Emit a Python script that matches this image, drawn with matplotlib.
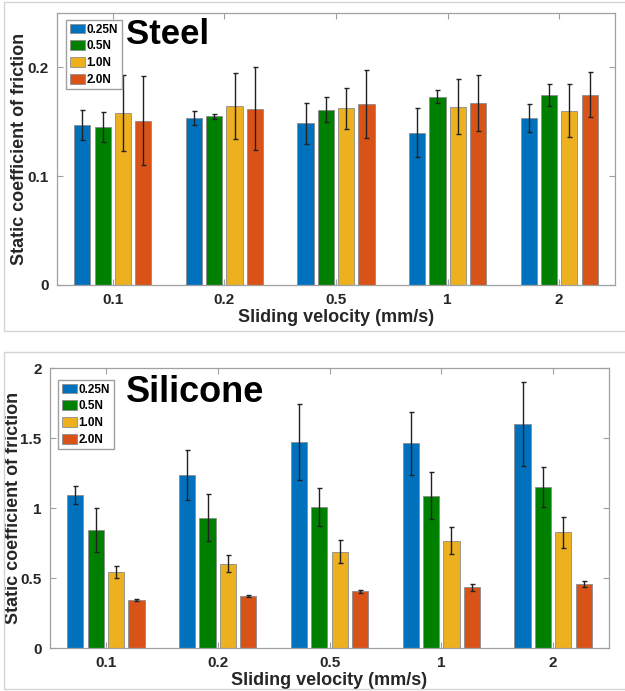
"""
Static coefficient of friction vs sliding velocity for steel and silicone,
grouped bars (one bar per normal load) with error bars.
"""
import numpy as np
import matplotlib.pyplot as plt
from matplotlib.patches import Rectangle

plt.rcParams['font.family'] = ['Liberation Sans', 'DejaVu Sans']
plt.rcParams['font.weight'] = 'bold'

velocities = ['0.1', '0.2', '0.5', '1', '2']
loads = ['0.25N', '0.5N', '1.0N', '2.0N']
colors = ['#0072BD', '#008000', '#EDB120', '#D95319']

# steel: rows = velocity, columns = load
steel_mean = [[0.147, 0.145, 0.158, 0.151],
              [0.1535, 0.155, 0.1645, 0.162],
              [0.1485, 0.161, 0.1625, 0.1665],
              [0.140, 0.173, 0.164, 0.1675],
              [0.1535, 0.1745, 0.160, 0.175]]
steel_err = [[0.014, 0.014, 0.035, 0.041],
             [0.006, 0.002, 0.030, 0.038],
             [0.0187, 0.0115, 0.019, 0.031],
             [0.0225, 0.006, 0.025, 0.0255],
             [0.013, 0.010, 0.0243, 0.0205]]

# silicone
silicone_mean = [[1.093, 0.843, 0.545, 0.343],
                 [1.233, 0.931, 0.602, 0.369],
                 [1.471, 1.005, 0.688, 0.405],
                 [1.462, 1.086, 0.767, 0.433],
                 [1.600, 1.152, 0.826, 0.457]]
silicone_err = [[0.067, 0.155, 0.042, 0.004],
                [0.178, 0.170, 0.060, 0.007],
                [0.274, 0.137, 0.083, 0.010],
                [0.225, 0.168, 0.099, 0.027],
                [0.298, 0.143, 0.113, 0.023]]

W, H = 625, 691
fig = plt.figure(figsize=(W / 100, H / 100), dpi=100)

# light panel frames around each chart
fig.patches.append(Rectangle((4 / W, 1 - 331 / H), 1.0, 329 / H, transform=fig.transFigure,
                             fill=False, edgecolor='#d4d4d4', linewidth=1))
fig.patches.append(Rectangle((4 / W, 1 - 689 / H), 1.0, 337 / H, transform=fig.transFigure,
                             fill=False, edgecolor='#d4d4d4', linewidth=1))


def grouped_bars(ax, mean, err, yticks, yticklabels, ymax, title, title_xy, title_size,
                 legend_xy, ylabel_xy):
    mean = np.array(mean)
    err = np.array(err)
    x = np.arange(1, len(velocities) + 1)
    step = 0.182
    for i in range(len(loads)):
        pos = x + (i - 1.5) * step
        ax.bar(pos, mean[:, i], width=0.145, color=colors[i], edgecolor='#8c8c8c',
               linewidth=0.6, label=loads[i], zorder=2)
        ax.errorbar(pos, mean[:, i], yerr=err[:, i], fmt='none', ecolor='#222222',
                    elinewidth=1, capsize=1.8, capthick=1, zorder=3)
    ax.set_xlim(0.5, 5.5)
    ax.set_ylim(0, ymax)
    ax.set_xticks(x)
    ax.set_xticklabels(velocities)
    ax.set_yticks(yticks)
    ax.set_yticklabels(yticklabels)
    ax.tick_params(direction='in', top=True, right=True, length=4, width=0.8,
                   color='#a0a0a0', labelsize=11, labelcolor='#262626', pad=6)
    for s in ax.spines.values():
        s.set_color('#a0a0a0')
        s.set_linewidth(0.9)
    ax.set_xlabel('Sliding velocity (mm/s)', fontsize=13, fontweight='bold', color='#262626', labelpad=1)
    ax.set_ylabel('Static coefficient of friction', fontsize=13, fontweight='bold', color='#262626',
                  va='center')
    ax.yaxis.set_label_coords(ylabel_xy[0] / W, 1 - ylabel_xy[1] / H, transform=fig.transFigure)
    fig.text(title_xy[0] / W, 1 - title_xy[1] / H, title, fontsize=title_size,
             fontweight='bold', va='center', ha='left', color='black')
    ax.legend(loc='upper left', bbox_to_anchor=(legend_xy[0] / W, 1 - legend_xy[1] / H),
              bbox_transform=fig.transFigure, borderaxespad=0, fancybox=False,
              edgecolor='#a0a0a0', framealpha=1, prop={'size': 8.5, 'weight': 'bold'},
              handlelength=1.3, handleheight=0.9, handletextpad=0.15,
              labelspacing=0.4, borderpad=0.3)


ax1 = fig.add_axes([57 / W, 1 - 285 / H, 558 / W, 272 / H])
grouped_bars(ax1, steel_mean, steel_err, [0, 0.1, 0.2], ['0', '0.1', '0.2'], 0.25,
             'Steel', (126, 35), 25, (66, 20), (20, 149))

ax2 = fig.add_axes([50 / W, 1 - 648 / H, 559 / W, 280 / H])
grouped_bars(ax2, silicone_mean, silicone_err, [0, 0.5, 1, 1.5, 2], ['0', '0.5', '1', '1.5', '2'], 2,
             'Silicone', (126, 393), 26, (58, 380), (14, 508))

fig.savefig('out.png', dpi=100)
